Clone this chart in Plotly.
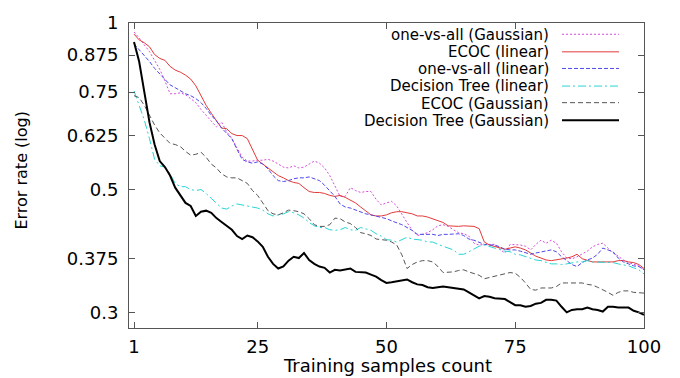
import plotly.graph_objects as go

samples = list(range(1, 101))

ova_gauss = [0.963,0.940,0.913,0.888,0.856,0.825,0.786,0.745,0.745,0.748,
0.742,0.730,0.718,0.698,0.681,0.665,0.649,0.662,0.636,0.618,
0.596,0.572,0.563,0.563,0.565,0.565,0.567,0.563,0.556,0.549,
0.547,0.552,0.547,0.549,0.556,0.563,0.558,0.547,0.530,0.506,
0.486,0.486,0.504,0.498,0.494,0.496,0.496,0.480,0.469,0.473,
0.476,0.467,0.450,0.436,0.422,0.413,0.415,0.418,0.423,0.430,
0.432,0.429,0.423,0.418,0.416,0.412,0.400,0.397,0.398,0.398,
0.398,0.390,0.384,0.398,0.398,0.397,0.395,0.389,0.398,0.405,
0.400,0.405,0.400,0.386,0.376,0.375,0.378,0.382,0.387,0.394,
0.398,0.400,0.392,0.384,0.379,0.373,0.369,0.367,0.364,0.358]

ecoc_lin = [0.955,0.932,0.921,0.906,0.877,0.863,0.856,0.835,0.822,0.815,
0.805,0.792,0.770,0.739,0.710,0.687,0.665,0.646,0.644,0.631,
0.626,0.626,0.618,0.589,0.565,0.556,0.547,0.538,0.530,0.525,
0.519,0.515,0.513,0.504,0.496,0.494,0.494,0.492,0.488,0.486,
0.488,0.484,0.478,0.473,0.465,0.458,0.450,0.448,0.448,0.450,
0.454,0.456,0.456,0.454,0.452,0.448,0.448,0.446,0.443,0.439,
0.436,0.430,0.429,0.429,0.430,0.430,0.429,0.425,0.402,0.397,
0.395,0.392,0.390,0.392,0.394,0.392,0.389,0.384,0.379,0.376,
0.373,0.372,0.373,0.375,0.376,0.378,0.382,0.375,0.372,0.370,
0.370,0.370,0.369,0.370,0.372,0.372,0.370,0.369,0.366,0.360]

ova_lin = [0.917,0.895,0.877,0.852,0.828,0.808,0.792,0.773,0.764,0.754,
0.745,0.739,0.730,0.718,0.701,0.681,0.665,0.646,0.633,0.618,
0.591,0.567,0.561,0.558,0.561,0.556,0.545,0.530,0.519,0.517,
0.519,0.523,0.525,0.525,0.527,0.523,0.519,0.509,0.498,0.486,
0.471,0.465,0.463,0.459,0.456,0.452,0.450,0.448,0.446,0.443,
0.439,0.436,0.432,0.427,0.422,0.415,0.415,0.415,0.415,0.413,
0.415,0.415,0.416,0.416,0.413,0.407,0.405,0.402,0.398,0.397,
0.397,0.394,0.390,0.389,0.389,0.387,0.384,0.382,0.384,0.386,
0.387,0.389,0.386,0.378,0.372,0.366,0.363,0.369,0.373,0.376,
0.382,0.392,0.389,0.386,0.376,0.370,0.367,0.364,0.363,0.358]

dt_lin = [0.754,0.710,0.668,0.618,0.567,0.552,0.549,0.534,0.513,0.506,
0.506,0.500,0.498,0.500,0.492,0.482,0.473,0.463,0.461,0.467,
0.471,0.469,0.467,0.465,0.463,0.459,0.452,0.448,0.450,0.452,
0.456,0.454,0.450,0.444,0.436,0.430,0.427,0.427,0.423,0.422,
0.423,0.427,0.423,0.422,0.427,0.425,0.422,0.416,0.412,0.406,
0.405,0.402,0.406,0.410,0.407,0.406,0.405,0.402,0.402,0.398,
0.395,0.392,0.389,0.382,0.382,0.386,0.390,0.395,0.397,0.394,
0.392,0.390,0.387,0.386,0.382,0.381,0.378,0.375,0.373,0.372,
0.369,0.367,0.367,0.366,0.367,0.369,0.370,0.370,0.372,0.370,
0.370,0.370,0.370,0.369,0.367,0.366,0.364,0.361,0.358,0.352]

ecoc_gauss = [0.739,0.733,0.710,0.681,0.654,0.633,0.618,0.606,0.603,0.598,
0.586,0.577,0.579,0.584,0.572,0.556,0.547,0.534,0.527,0.525,
0.525,0.519,0.513,0.498,0.488,0.473,0.458,0.452,0.450,0.454,
0.459,0.458,0.456,0.452,0.443,0.432,0.429,0.429,0.432,0.444,
0.443,0.437,0.434,0.427,0.418,0.416,0.413,0.407,0.406,0.405,
0.402,0.397,0.381,0.360,0.366,0.370,0.372,0.372,0.370,0.363,
0.354,0.354,0.355,0.357,0.358,0.355,0.353,0.350,0.345,0.347,
0.348,0.350,0.353,0.354,0.353,0.347,0.339,0.330,0.329,0.332,
0.332,0.332,0.334,0.339,0.339,0.339,0.339,0.339,0.337,0.336,
0.333,0.330,0.326,0.322,0.326,0.328,0.328,0.326,0.326,0.325]

dt_gauss = [0.924,0.852,0.751,0.662,0.603,0.563,0.549,0.530,0.504,0.488,
0.473,0.467,0.448,0.456,0.458,0.454,0.444,0.437,0.430,0.423,
0.412,0.407,0.413,0.410,0.403,0.394,0.378,0.367,0.360,0.363,
0.372,0.378,0.376,0.384,0.373,0.367,0.363,0.361,0.354,0.358,
0.357,0.358,0.360,0.355,0.355,0.354,0.351,0.348,0.343,0.339,
0.340,0.341,0.343,0.344,0.340,0.337,0.336,0.333,0.332,0.333,
0.334,0.333,0.332,0.332,0.330,0.326,0.322,0.318,0.321,0.320,
0.318,0.318,0.317,0.313,0.309,0.309,0.307,0.308,0.311,0.312,
0.316,0.316,0.315,0.307,0.300,0.303,0.304,0.304,0.306,0.304,
0.303,0.301,0.307,0.307,0.306,0.306,0.306,0.302,0.300,0.297]

series_names = ["one-vs-all (Gaussian)", "ECOC (linear)", "one-vs-all (linear)",
                "Decision Tree (linear)", "ECOC (Gaussian)", "Decision Tree (Gaussian)"]
series_values = [ova_gauss, ecoc_lin, ova_lin, dt_lin, ecoc_gauss, dt_gauss]

y_tick_vals = [0.3, 0.375, 0.5, 0.625, 0.75, 0.875, 1]
y_tick_text = ["0.3", "0.375", "0.5", "0.625", "0.75", "0.875", "1"]
x_tick_vals = [1, 25, 50, 75, 100]

styles = [
    dict(color="#d84ad8", width=1, dash="2px,2px"),
    dict(color="#e23a3a", width=1, dash="solid"),
    dict(color="#5048e8", width=1, dash="4px,2px"),
    dict(color="#28d4d4", width=1, dash="8px,3px,2px,3px"),
    dict(color="#555555", width=1, dash="5px,3px"),
    dict(color="#000000", width=2, dash="solid"),
]

FONT = "DejaVu Sans"
W, H = 680, 378
ML, MR, MT, MB = 129, 36, 16, 50
PW, PH = W - ML - MR, H - MT - MB

def px(x):
    return (x - ML) / PW

def py(y):
    return (H - MB - y) / PH

fig = go.Figure()
for name, vals, st in zip(series_names, series_values, styles):
    fig.add_trace(go.Scatter(x=samples, y=vals, mode="lines", name=name,
                             line=st, showlegend=False))

# gnuplot-style key drawn inside the plot
annotations = []
shapes = []
for i, (name, st) in enumerate(zip(series_names, styles)):
    yc = 28 + 17.6 * i
    annotations.append(dict(text=name, xref="paper", yref="paper", x=px(550), y=py(yc),
                            xanchor="right", yanchor="middle", showarrow=False,
                            borderpad=0,
                            font=dict(family=FONT, size=15, color="black")))
    ly = round(yc - 1) + 0.5
    shapes.append(dict(type="line", xref="paper", yref="paper",
                       x0=px(562), x1=px(619), y0=py(ly), y1=py(ly),
                       line=st))

annotations.append(dict(text="Error rate (log)", xref="paper", yref="paper",
                        x=px(22), y=py(167), textangle=-90, showarrow=False,
                        xanchor="center", yanchor="middle",
                        font=dict(family=FONT, size=16, color="black")))
annotations.append(dict(text="Training samples count", xref="paper", yref="paper",
                        x=px(387), y=py(378), showarrow=False, borderpad=0,
                        xanchor="center", yanchor="bottom",
                        font=dict(family=FONT, size=18, color="black")))

axis_common = dict(showgrid=False, zeroline=False, showline=True, linecolor="#555555",
                   linewidth=1, mirror="ticks", ticks="inside", ticklen=6,
                   tickcolor="#555555", tickfont=dict(family=FONT, size=18, color="black"))

fig.update_layout(
    width=W, height=H,
    margin=dict(l=ML, r=MR, t=MT, b=MB, pad=0),
    paper_bgcolor="white", plot_bgcolor="white",
    xaxis=dict(range=[0.03, 100], tickvals=x_tick_vals, ticklabelstandoff=2, **axis_common),
    yaxis=dict(type="log", range=[-0.5512, 0], tickvals=y_tick_vals, ticktext=y_tick_text,
               ticklabelstandoff=6, **axis_common),
    annotations=annotations,
    shapes=shapes,
)

fig.write_html("out.html", config={"displayModeBar": False},
               post_script="document.body.style.margin='0';document.body.style.overflow='hidden';")
